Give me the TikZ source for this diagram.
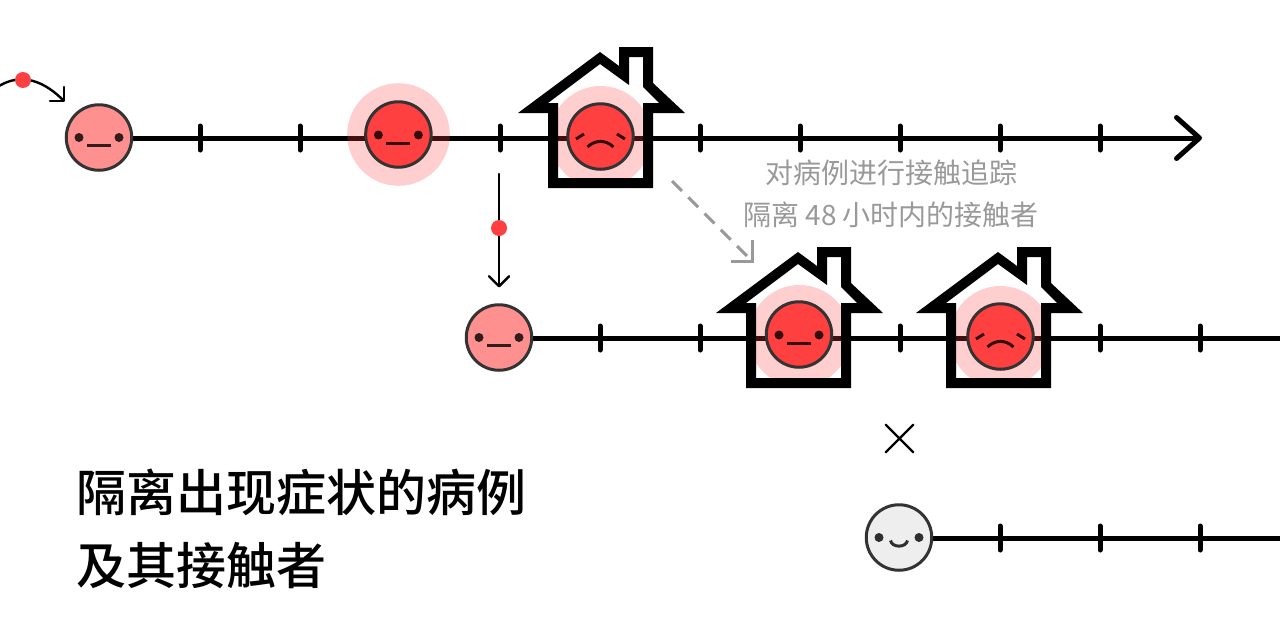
\documentclass[tikz,border=0pt]{standalone}
\usepackage{fontspec}
\setmainfont{Noto Sans CJK SC}
\newfontfamily\cjkmed{Noto Sans CJK SC Medium}
\usetikzlibrary{arrows.meta}
\definecolor{redF}{HTML}{FF4040}
\definecolor{salmon}{HTML}{FF9090}
\definecolor{paleF}{HTML}{EEEEEE}
\definecolor{inkF}{HTML}{333333}
\definecolor{grayT}{HTML}{999999}
\pgfdeclarelayer{lines}
\pgfsetlayers{lines,main}
\tikzset{
  x=1pt,y=-1pt,
  face/.style={circle,draw=inkF,line width=3pt,minimum size=65.5pt,inner sep=0pt,fill=#1},
  timeline/.style={black,line width=5pt},
  tick/.style={black,line width=5pt,line cap=round},
  glow/.style={fill=redF,fill opacity=0.25,draw=none},
  feature/.style={line width=3pt,draw=black,draw opacity=0.8},
  eye/.style={fill=black,fill opacity=0.8,draw=none},
  housewall/.style={fill=black,even odd rule,draw=none},
  thin arrow/.style={black,line width=2.4pt,line cap=round,-{Straight Barb[length=10pt,width=20pt,line width=2.4pt,round]}},
  germ/.style={circle,fill=redF,minimum size=16pt,inner sep=0pt,draw=none},
  note/.style={text=grayT,font=\fontsize{28}{28}\selectfont,inner sep=0pt,anchor=center},
  title/.style={text=black,font=\cjkmed\fontsize{50}{50}\selectfont,inner sep=0pt,anchor=west},
}
\newcommand{\housepath}[2]{%
  \begin{scope}[shift={(#1,#2)}]
    \path[housewall]
      (518,113)--(600,52)--(619,66)--(619,47)--(653,47)--(653,83)--(685,113)--(653,113)--(653,188)--(548,188)--(548,113)--cycle
      (548,103)--(600,64)--(629,85)--(629,57)--(643,57)--(643,87)--(659,103)--(643,103)--(643,178)--(558,178)--(558,103)--cycle;
  \end{scope}}
\newcommand{\glowclip}[4]{% cx cy, house shift
  \begin{scope}
    \clip[shift={(#3,#4)}] (558,70) rectangle (643,178);
    \fill[glow] (#1,#2) circle[radius=51];
  \end{scope}}
\newcommand{\flatmouth}[3]{%
  \fill[eye] (#1-20,#2) circle[radius=4.5] (#1+20,#2) circle[radius=4.5];
  \draw[feature] (#1-12,#2+8) -- (#1+12,#2+8);}
\newcommand{\sadmouth}[2]{%
  \draw[feature] (#1-24.5,#2+2.5) -- (#1-16.5,#2-2.5) (#1+16.5,#2-2.5) -- (#1+24.5,#2+2.5);
  \draw[feature] (#1-13,#2+10.5) .. controls (#1-5,#2+3) and (#1+5,#2+3) .. (#1+13,#2+10.5);}
\begin{document}
\begin{tikzpicture}
\useasboundingbox (0,0) rectangle (1280,640);
% glows and houses
\fill[glow] (398.5,134.5) circle[radius=51.3];
\glowclip{600.5}{137}{0}{0}
\housepath{0}{0}
\glowclip{799.5}{336}{198}{200}
\housepath{198}{200}
\glowclip{1000.5}{337}{398}{200}
\housepath{398}{200}
% faces
\node[face=salmon] (a1) at (99,137.5) {};
\flatmouth{99}{137.5}{}
\node[face=redF] (a2) at (398.4,134.5) {};
\flatmouth{398.4}{135}{}
\node[face=redF] (a3) at (600.5,136.5) {};
\sadmouth{600.5}{136.5}
\node[face=salmon] (b1) at (499,337.5) {};
\flatmouth{499}{337.5}{}
\node[face=redF] (b2) at (799,334.5) {};
\flatmouth{799}{335}{}
\node[face=redF] (b3) at (1000.5,336.5) {};
\sadmouth{1000.5}{336.5}
\node[face=paleF] (c1) at (899,537.5) {};
\fill[eye] (879,537.5) circle[radius=4.5] (919,537.5) circle[radius=4.5];
\draw[feature] (890.5,540.5) .. controls (892,548) and (906,548) .. (907.5,540.5);
% timeline ends
\coordinate (a end) at (1202,138);
\coordinate (b end) at (1280,338);
\coordinate (c end) at (1280,538);
\begin{pgfonlayer}{lines}
\draw[timeline,-{Straight Barb[length=23pt,width=41pt,line width=5pt,round]}] (a1.east |- a end) -- (a end);
\draw[timeline] (b1.east |- b end) -- (b end);
\draw[timeline] (c1.east |- c end) -- (c end);
\foreach \x in {200,300,500,700,800,900,1000,1100}
  \draw[tick] (\x,126) -- (\x,150);
\foreach \x in {600,700,900,1100,1200}
  \draw[tick] (\x,326) -- (\x,350);
\foreach \x in {1000,1100,1200}
  \draw[tick] (\x,526) -- (\x,550);
\end{pgfonlayer}
% incoming arrow
\coordinate (in from) at (-4,88);
\coordinate (in to) at (65,102);
\draw[thin arrow] (in from) .. controls (22,70) and (46,83) .. (in to);
\node[germ] (g1) at (23,80) {};
% branch arrow
\coordinate (drop start) at (499,174);
\coordinate (drop end) at (499,287.5);
\draw[thin arrow] (drop start) -- (drop end);
\node[germ] (g2) at (499,228) {};
% dashed arrow
\coordinate (d start) at (672,181);
\coordinate (d end) at (753.5,262.5);
\draw[grayT,line width=3pt,dash pattern=on 14pt off 9pt,-{Straight Barb[length=15pt,width=30pt,line width=3pt]}] (d start) -- (d end);
% cross
\node[inner sep=0pt,minimum size=27pt] (x) at (899.5,438.5) {};
\draw[black,line width=2.4pt,line cap=round] (x.north west) -- (x.south east) (x.north east) -- (x.south west);
% texts
\node[note] (n1) at (891.5,173) {对病例进行接触追踪};
\node[note] (n2) at (891,215) {隔离 48 小时内的接触者};
\node[title] (t1) at (76,492) {隔离出现症状的病例};
\node[title] (t2) at (76,566) {及其接触者};
\end{tikzpicture}
\end{document}
